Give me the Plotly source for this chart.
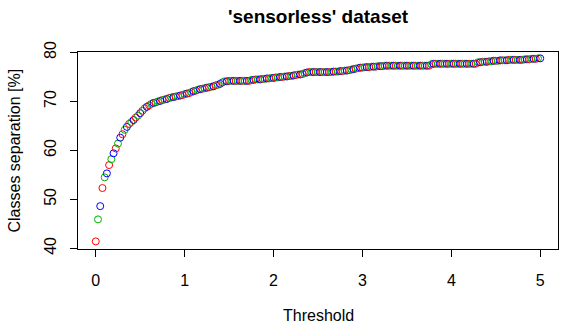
import plotly.graph_objects as go

# threshold grid (0 to 5, step 0.025)
thresholds = [round(i * 0.025, 3) for i in range(201)]

# classes separation [%]
separation = [
    41.4, 45.9, 48.6, 52.3, 54.5, 55.3, 57.0, 58.2, 59.4, 60.4,
    61.4, 62.6, 63.3, 64.2, 64.8, 65.4, 65.8, 66.2, 66.7, 67.1,
    67.6, 68.1, 68.6, 68.9, 69.2, 69.5, 69.7, 69.8, 70.0, 70.1,
    70.3, 70.4, 70.5, 70.7, 70.8, 70.9, 71.0, 71.1, 71.2, 71.3,
    71.5, 71.6, 71.7, 71.9, 72.1, 72.2, 72.4, 72.5, 72.6, 72.7,
    72.8, 72.9, 73.0, 73.1, 73.3, 73.4, 73.6, 73.9, 74.1, 74.1,
    74.2, 74.2, 74.2, 74.2, 74.2, 74.2, 74.2, 74.2, 74.2, 74.2,
    74.4, 74.4, 74.5, 74.5, 74.5, 74.6, 74.6, 74.7, 74.7, 74.8,
    74.8, 74.9, 74.9, 75.0, 75.0, 75.1, 75.1, 75.2, 75.2, 75.3,
    75.4, 75.5, 75.5, 75.6, 75.8, 75.9, 76.0, 76.0, 76.0, 76.0,
    76.0, 76.0, 76.0, 76.0, 76.0, 76.0, 76.0, 76.1, 76.1, 76.1,
    76.2, 76.2, 76.3, 76.3, 76.4, 76.5, 76.6, 76.7, 76.8, 76.9,
    76.9, 77.0, 77.0, 77.0, 77.1, 77.1, 77.1, 77.2, 77.2, 77.2,
    77.3, 77.3, 77.3, 77.3, 77.3, 77.3, 77.3, 77.3, 77.3, 77.3,
    77.3, 77.3, 77.3, 77.3, 77.3, 77.3, 77.3, 77.3, 77.3, 77.3,
    77.3, 77.6, 77.7, 77.7, 77.7, 77.7, 77.7, 77.7, 77.7, 77.7,
    77.7, 77.7, 77.7, 77.7, 77.7, 77.7, 77.7, 77.7, 77.7, 77.7,
    77.7, 77.7, 78.0, 78.0, 78.1, 78.1, 78.1, 78.2, 78.2, 78.3,
    78.3, 78.3, 78.4, 78.4, 78.4, 78.4, 78.5, 78.5, 78.5, 78.5,
    78.5, 78.5, 78.5, 78.6, 78.6, 78.6, 78.7, 78.7, 78.7, 78.8,
    78.8,
]

x_ticks = [0, 1, 2, 3, 4, 5]
y_ticks = [40, 50, 60, 70, 80]

palette = ["#FF0000", "#00B400", "#0000FF"]
colors = [palette[i % 3] for i in range(len(thresholds))]

FONT = "Liberation Sans, Arial, sans-serif"

fig = go.Figure()
fig.add_trace(go.Scatter(
    x=thresholds, y=separation, mode="markers",
    marker=dict(symbol="circle-open", size=7, color=colors, line=dict(width=1, color=colors)),
    showlegend=False,
))

axis_common = dict(
    showline=True, linecolor="black", linewidth=1, mirror=True,
    ticks="outside", ticklen=7, tickwidth=1, tickcolor="black",
    showgrid=False, zeroline=False,
    tickfont=dict(family=FONT, size=16, color="black"),
)

fig.update_xaxes(range=[-0.2, 5.2], tickvals=x_ticks, ticklabelstandoff=10, **axis_common)
fig.update_yaxes(range=[39.85, 80.1], tickvals=y_ticks, tickangle=-90, ticklabelstandoff=8, **axis_common)

fig.update_layout(
    width=568, height=325,
    margin=dict(l=78, r=10, t=52, b=76),
    plot_bgcolor="white", paper_bgcolor="white",
    font=dict(family=FONT, size=16, color="black"),
    annotations=[
        dict(text="<b>'sensorless' dataset</b>", xref="paper", yref="paper", x=0.5, y=1,
             yanchor="middle", yshift=36, showarrow=False,
             font=dict(size=19, family=FONT, color="black")),
        dict(text="Threshold", xref="paper", yref="paper", x=0.5, y=0,
             yanchor="middle", yshift=-66, showarrow=False,
             font=dict(size=16, family=FONT, color="black")),
        dict(text="Classes separation [%]", xref="paper", yref="paper", x=0, y=0.5,
             xanchor="center", xshift=-64, textangle=-90, showarrow=False,
             font=dict(size=16, family=FONT, color="black")),
    ],
)

# page margin off so the figure sits at the window origin
fig.write_html("out.html", config={"displayModeBar": False},
               post_script="document.body.style.margin='0';")
